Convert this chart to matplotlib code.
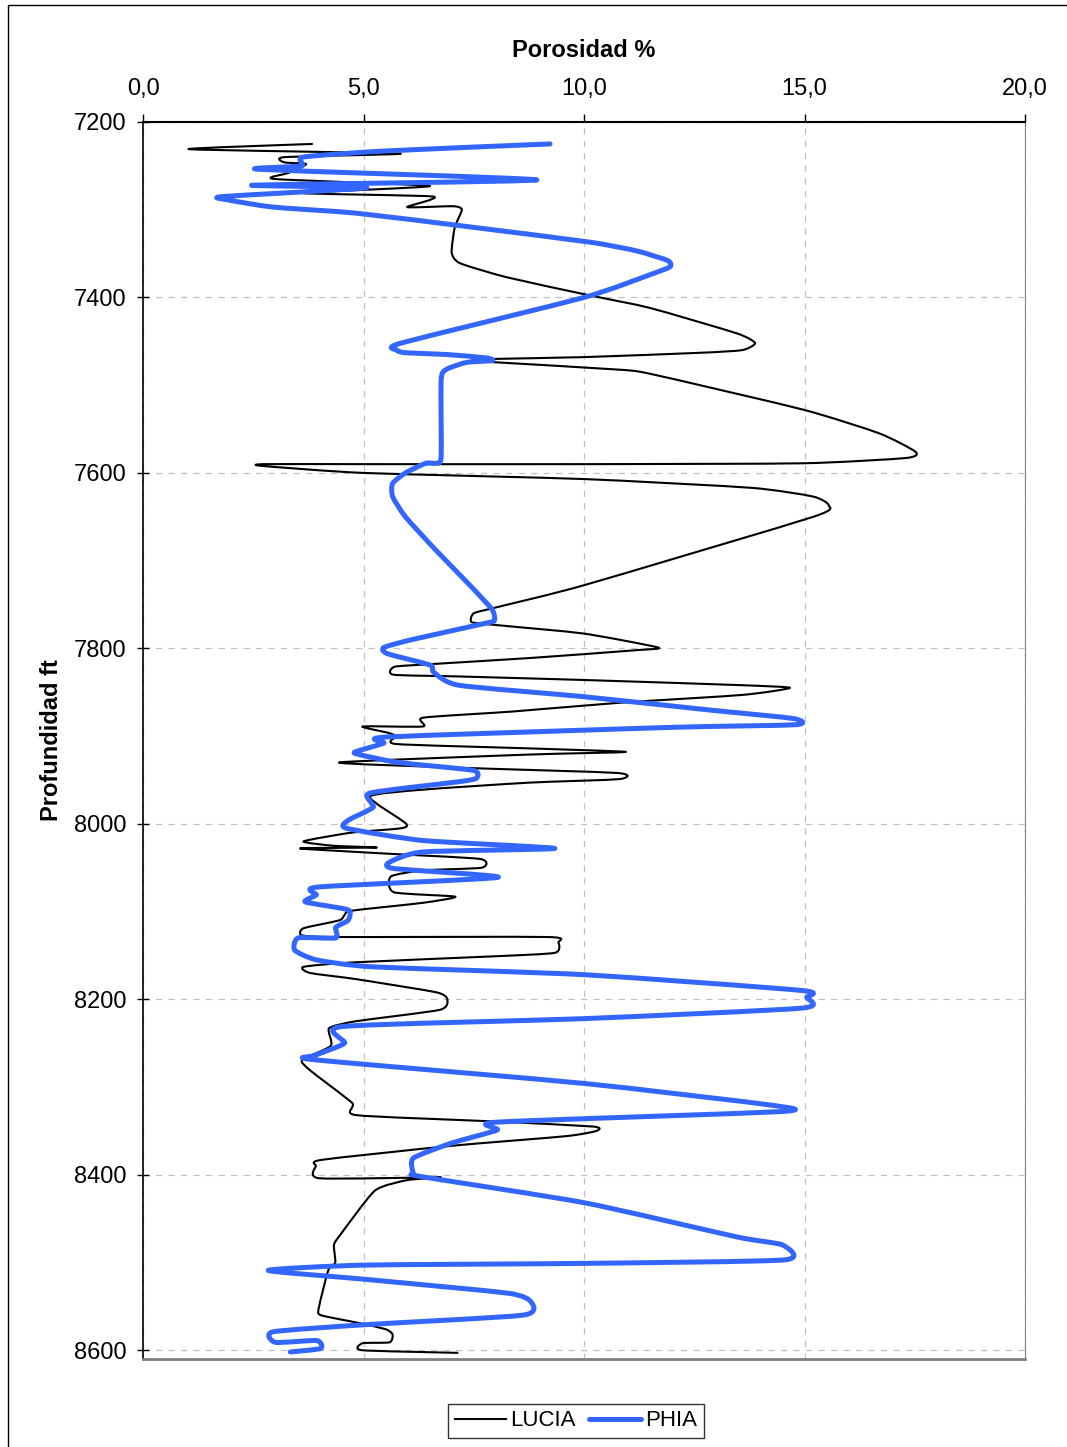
import matplotlib.pyplot as plt
from matplotlib.patches import Rectangle, PathPatch
from matplotlib.path import Path
from matplotlib.lines import Line2D

# LUCIA porosity (%) vs depth (ft)
lucia_por = [3.85, 1.04, 5.83, 3.22, 3.2, 3.7, 3.3, 2.99, 6.51, 3.63, 6.58, 5.99, 7.03, 7.23,
             7.07, 7.0, 7.19, 8.25, 10.07, 11.5, 13.47, 13.88, 13.59, 12.66, 10.0, 8.03, 7.45,
             8.03, 10.7, 11.5, 14.98, 16.7, 17.52, 17.3, 14.98, 10.0, 5.0, 2.75, 2.7, 5.0, 10.0,
             13.8, 15.2, 15.55, 15.2, 10.0, 8.03, 7.5, 7.45, 7.92, 9.98, 11.68, 11.2,
             8.77, 6.51, 5.7, 5.68, 7.16, 9.98, 13.6, 14.67, 13.6, 10.8, 8.37, 6.35, 6.35, 4.98,
             5.54, 5.74, 5.74, 8.77, 10.95, 8.77, 4.45, 7.16, 10.75, 10.8, 8.77, 6.35, 5.14,
             5.95, 5.86, 4.73, 3.64, 4.33, 5.3, 3.56, 5.54, 7.64, 7.68, 6.35, 5.62, 5.69, 7.08,
             6.35, 4.73, 4.57, 4.45, 3.64, 3.6, 4.33, 9.18, 9.42, 9.34, 7.96, 4.73, 3.64, 3.79,
             4.83, 6.65, 6.9, 6.73, 4.83, 4.22, 4.26, 3.61, 3.79, 4.74, 4.83, 7.86, 10.2, 10.28,
             9.59, 6.99, 4.05, 3.92, 4.0, 6.73, 6.0, 5.26, 4.48, 4.33, 4.36, 4.2, 3.99, 4.03,
             4.9, 5.5, 5.66, 5.59, 4.98, 4.97, 7.15]
lucia_depth = [7225, 7231, 7236, 7240, 7246, 7248, 7258, 7265, 7273, 7281, 7285, 7297, 7296, 7300,
               7320, 7349, 7361, 7377, 7397, 7412, 7441, 7452, 7460, 7463, 7468, 7470, 7472,
               7474, 7482, 7487, 7528, 7555, 7576, 7583, 7589, 7590, 7590, 7590, 7592, 7600, 7607,
               7617, 7627, 7637, 7650, 7728, 7753, 7760, 7770, 7773, 7783, 7799, 7802,
               7811, 7818, 7821, 7830, 7832, 7836, 7842, 7845, 7853, 7862, 7872, 7879, 7889, 7889,
               7896, 7900, 7909, 7914, 7918, 7921, 7930, 7936, 7942, 7949, 7953, 7961, 7969,
               7999, 8005, 8010, 8020, 8025, 8027, 8028, 8034, 8040, 8050, 8053, 8060, 8078, 8083,
               8090, 8099, 8104, 8110, 8119, 8127, 8129, 8129, 8135, 8147, 8151, 8158, 8163, 8170,
               8177, 8192, 8200, 8212, 8225, 8233, 8253, 8269, 8281, 8318, 8332, 8339, 8345, 8350,
               8356, 8367, 8383, 8390, 8404, 8403, 8406, 8418, 8468, 8480, 8500, 8509, 8551, 8560,
               8569, 8576, 8582, 8591, 8592, 8600, 8603]

# PHIA porosity (%) vs depth (ft)
phia_por = [9.23, 5.5, 3.63, 3.6, 2.65, 8.93, 2.49, 5.08, 1.8, 1.95, 2.95, 4.85, 7.48, 10.14,
            11.2, 11.9, 11.95, 11.5, 10.0, 5.85, 5.75, 5.95, 6.88, 7.8, 7.92, 7.34, 6.88, 6.76,
            6.76, 6.64, 6.41, 5.95, 5.66, 5.66, 5.95, 6.64, 7.45, 7.92, 7.97, 7.8, 6.1, 5.46,
            5.54, 6.51, 6.59, 7.16, 9.98, 12.8, 14.75, 14.8, 12.0, 5.54, 5.46, 4.81, 4.9, 5.78,
            7.48, 7.56, 7.16, 5.14, 5.22, 4.65, 4.61, 6.35, 9.34, 6.35, 5.58, 5.7, 8.05, 3.97,
            3.93, 3.68, 4.65, 4.65, 4.37, 4.37, 3.52, 3.44, 3.93, 5.22, 10.02, 14.95, 15.05, 14.95,
            10.02, 4.52, 4.57, 3.9, 3.9, 10.02, 14.3, 14.45, 8.03, 8.03, 6.99, 6.13, 6.13, 6.3,
            10.02, 13.48, 14.5, 14.55, 10.02, 5.0, 2.84, 5.0, 8.28, 8.8, 8.62, 5.0, 2.95, 3.0,
            3.94, 4.03, 3.34]
phia_depth = [7225, 7233, 7240, 7250, 7254, 7266, 7272, 7275, 7285, 7289, 7297, 7304, 7320, 7337,
              7347, 7358, 7365, 7374, 7400, 7452, 7460, 7463, 7465, 7469, 7472, 7474, 7482, 7494,
              7582, 7589, 7589, 7600, 7612, 7627, 7650, 7688, 7730, 7756, 7768, 7771, 7790, 7799,
              7806, 7819, 7827, 7842, 7855, 7870, 7880, 7887, 7890, 7901, 7908, 7918, 7921, 7930,
              7939, 7948, 7952, 7965, 7981, 7996, 8005, 8019, 8028, 8032, 8044, 8051, 8061, 8072,
              8081, 8089, 8098, 8110, 8118, 8130, 8130, 8144, 8155, 8163, 8172, 8190, 8198, 8210,
              8222, 8231, 8250, 8264, 8269, 8296, 8321, 8328, 8340, 8349, 8364, 8381, 8398, 8402,
              8432, 8471, 8480, 8497, 8501, 8503, 8509, 8519, 8535, 8545, 8560, 8571, 8579, 8591,
              8589, 8598, 8602]

x_ticks = [0, 5, 10, 15, 20]
y_ticks = [7200, 7400, 7600, 7800, 8000, 8200, 8400, 8600]


def smooth_path(xs, ys, k=0.1):
    # smoothed line like the spreadsheet one: cubic bezier segments through the points
    pts = list(zip(xs, ys))
    verts = [pts[0]]
    codes = [Path.MOVETO]
    n = len(pts)
    for i in range(n - 1):
        p0 = pts[i - 1] if i > 0 else pts[i]
        p1 = pts[i]
        p2 = pts[i + 1]
        p3 = pts[i + 2] if i + 2 < n else pts[i + 1]
        c1 = (p1[0] + (p2[0] - p0[0]) * k, p1[1] + (p2[1] - p0[1]) * k)
        c2 = (p2[0] - (p3[0] - p1[0]) * k, p2[1] - (p3[1] - p1[1]) * k)
        verts += [c1, c2, p2]
        codes += [Path.CURVE4] * 3
    return Path(verts, codes)


plt.rcParams['font.family'] = ['Liberation Sans', 'DejaVu Sans']

fig = plt.figure(figsize=(10.67, 14.47), dpi=100)
fig.patches.append(Rectangle((8 / 1067, -0.1), 1.2, 1.1 - 5 / 1447,
                             transform=fig.transFigure, fill=False, edgecolor='black',
                             linewidth=1.0))
ax = fig.add_axes([143 / 1067, 1 - 1359 / 1447, (1025 - 143) / 1067, (1359 - 122) / 1447])

ax.add_patch(PathPatch(smooth_path(lucia_por, lucia_depth), facecolor='none',
                       edgecolor='black', linewidth=1.5, joinstyle='round', zorder=3))
ax.add_patch(PathPatch(smooth_path(phia_por, phia_depth), facecolor='none',
                       edgecolor='#3366FF', linewidth=3.6, joinstyle='round',
                       capstyle='round', zorder=4))

ax.set_xlim(0, 20)
ax.set_ylim(8610, 7200)
ax.xaxis.tick_top()
ax.xaxis.set_label_position('top')
ax.set_xticks(x_ticks)
ax.set_xticklabels([f"{v:.1f}".replace('.', ',') for v in x_ticks], fontsize=17)
ax.set_yticks(y_ticks)
ax.set_yticklabels([str(v) for v in y_ticks], fontsize=17)
ax.tick_params(axis='x', direction='out', length=6, width=1, pad=10)
ax.tick_params(axis='y', direction='inout', length=8, width=1, pad=8)
ax.set_xlabel('Porosidad %', fontsize=17, fontweight='bold', labelpad=15)
ax.set_ylabel('Profundidad ft', fontsize=17, fontweight='bold')
ax.yaxis.set_label_coords(-0.091, 0.5)
ax.grid(True, color='#c0c0c0', linestyle=(0, (5, 5)), linewidth=0.9)

ax.spines['top'].set_linewidth(1.5)
ax.spines['left'].set_linewidth(1.2)
ax.spines['right'].set_color('#808080')
ax.spines['bottom'].set_color('#808080')
ax.spines['bottom'].set_linewidth(2)

handles = [Line2D([], [], color='black', linewidth=1.5),
           Line2D([], [], color='#3366FF', linewidth=3.6, solid_capstyle='round')]
leg = fig.legend(handles, ['LUCIA', 'PHIA'], loc='center',
                 bbox_to_anchor=(576 / 1067, 1 - 1421 / 1447), ncol=2,
                 fontsize=16, frameon=True, fancybox=False, edgecolor='black',
                 handlelength=2.3, handletextpad=0.2, columnspacing=0.6,
                 borderpad=0.3)
leg.get_frame().set_linewidth(1.0)

fig.savefig('out.png', dpi=100)
